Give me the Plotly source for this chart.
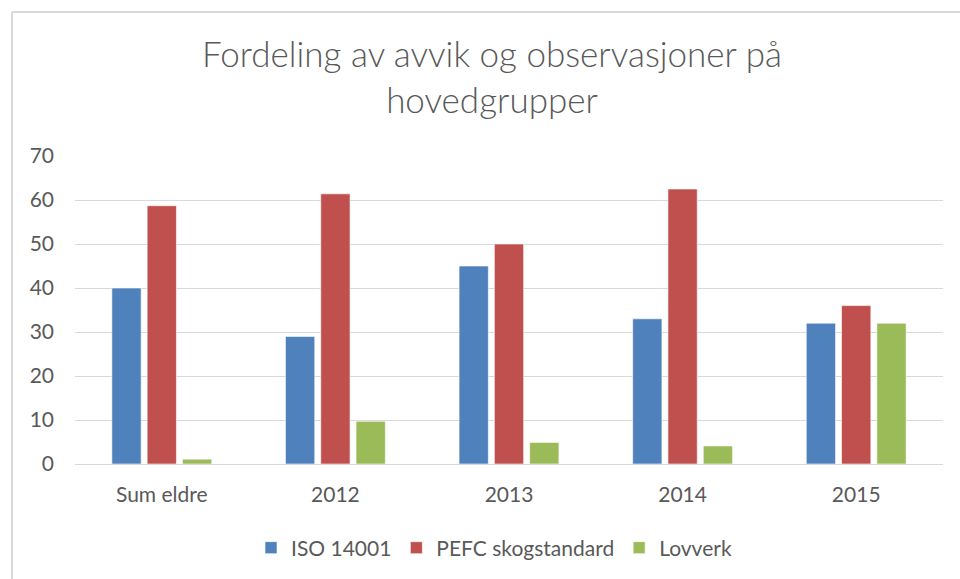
import plotly.graph_objects as go

categories = ["Sum eldre", "2012", "2013", "2014", "2015"]
series_names = ["ISO 14001", "PEFC skogstandard", "Lovverk"]
iso_14001 = [40, 29, 45, 33, 32]
pefc_skogstandard = [58.7, 61.4, 50, 62.5, 36]
lovverk = [1.1, 9.7, 4.9, 4.1, 32]
y_ticks = [0, 10, 20, 30, 40, 50, 60, 70]

colors = ["#4F81BD", "#C0504D", "#9BBB59"]
values = [iso_14001, pefc_skogstandard, lovverk]

fig = go.Figure()
for name, vals, col in zip(series_names, values, colors):
    fig.add_trace(go.Bar(
        x=categories, y=vals, name=name,
        marker=dict(color=col, line=dict(color="rgba(255,255,255,0.6)", width=1)),
    ))

font_family = "Lato, 'Open Sans', sans-serif"
fig.update_layout(
    width=960, height=579,
    margin=dict(l=75, r=17, t=156, b=115),
    paper_bgcolor="white", plot_bgcolor="white",
    barmode="group", bargap=0.39, bargroupgap=0.17,
    font=dict(family=font_family, color="#595959", size=21),
    title=dict(
        text="Fordeling av avvik og observasjoner på<br>hovedgrupper",
        x=492/960, xanchor="center", xref="container",
        y=1 - 67/579, yanchor="middle", yref="container",
        font=dict(size=35, color="#595959", family=font_family, weight=300),
    ),
    legend=dict(
        orientation="h", x=494/960, xanchor="center", xref="container",
        y=1 - 548/579, yanchor="middle", yref="container",
        font=dict(size=21, color="#595959"),
        itemwidth=30, traceorder="normal",
    ),
    xaxis=dict(showgrid=False, showline=True, linecolor="#d9d9d9", linewidth=1,
               ticks="", ticklabelstandoff=12, tickfont=dict(size=21, color="#595959")),
    yaxis=dict(range=[0, 70], tickvals=y_ticks, showgrid=True, gridcolor="#d9d9d9",
               gridwidth=1, zeroline=False, showline=False, ticks="",
               ticklabelstandoff=20, tickfont=dict(size=21, color="#595959")),
    shapes=[
        dict(type="line", xref="paper", yref="paper",
             x0=(12 - 75) / 868, x1=(12 - 75) / 868, y0=(464 - 12) / 308, y1=-0.5,
             line=dict(color="#d9d9d9", width=2)),
        dict(type="line", xref="paper", yref="paper",
             x0=(12 - 75) / 868, x1=1.1, y0=(464 - 12) / 308, y1=(464 - 12) / 308,
             line=dict(color="#d9d9d9", width=2)),
    ],
)

fig.write_html("out.html", config={"displayModeBar": False},
               post_script="document.body.style.margin='0';")
